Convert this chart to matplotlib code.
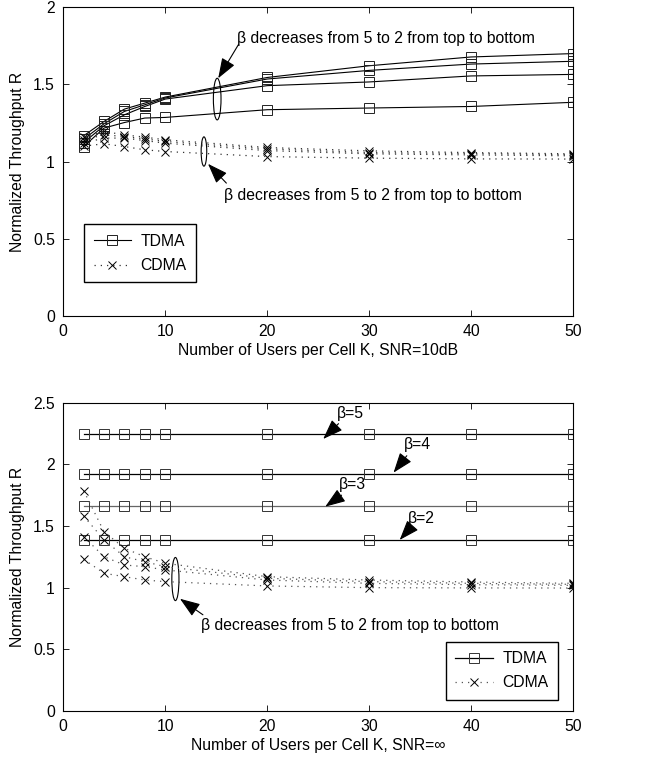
import matplotlib
matplotlib.use('Agg')
import matplotlib.pyplot as plt
from matplotlib.patches import Ellipse

plt.rcParams['font.family'] = ['Liberation Sans', 'DejaVu Sans']
plt.rcParams['font.size'] = 11.3

# Number of users per cell
users = [2, 4, 6, 8, 10, 20, 30, 40, 50]

# SNR=10dB, beta = 5, 4, 3, 2
tdma_10db = [
    [1.167, 1.26, 1.34, 1.379, 1.418, 1.545, 1.621, 1.678, 1.70],
    [1.145, 1.245, 1.325, 1.368, 1.412, 1.535, 1.591, 1.632, 1.65],
    [1.123, 1.232, 1.303, 1.357, 1.405, 1.492, 1.516, 1.555, 1.565],
    [1.097, 1.217, 1.253, 1.282, 1.286, 1.336, 1.347, 1.357, 1.384],
]
cdma_10db = [
    [1.16, 1.195, 1.173, 1.158, 1.141, 1.091, 1.069, 1.058, 1.05],
    [1.14, 1.173, 1.162, 1.147, 1.13, 1.082, 1.058, 1.052, 1.044],
    [1.12, 1.152, 1.152, 1.136, 1.119, 1.071, 1.05, 1.043, 1.037],
    [1.10, 1.115, 1.097, 1.076, 1.065, 1.032, 1.022, 1.017, 1.016],
]

# SNR=inf, beta = 5, 4, 3, 2
tdma_inf_level = [2.246, 1.919, 1.665, 1.384]
cdma_inf = [
    [1.787, 1.454, 1.319, 1.251, 1.198, 1.089, 1.062, 1.046, 1.035],
    [1.581, 1.387, 1.251, 1.211, 1.170, 1.076, 1.049, 1.035, 1.027],
    [1.414, 1.251, 1.184, 1.170, 1.144, 1.062, 1.035, 1.024, 1.019],
    [1.230, 1.117, 1.089, 1.062, 1.049, 1.014, 1.000, 0.998, 0.997],
]

note = '\u03b2 decreases from 5 to 2 from top to bottom'
tdma_colors = ['black', 'black', '#666666', 'black']
dots = (0, (1, 4))

fig = plt.figure(figsize=(6.57, 7.63), dpi=100)
ax1 = fig.add_axes([0.0963, 0.5862, 0.7758, 0.4042])
ax2 = fig.add_axes([0.0963, 0.0682, 0.7758, 0.4040])

arrow = dict(arrowstyle='-|>,head_length=1.1,head_width=0.4', color='black',
             lw=0.8, shrinkA=0, shrinkB=0)
leg_kw = dict(frameon=True, fancybox=False, edgecolor='black', handlelength=2.4,
              handletextpad=0.6, borderpad=0.6, labelspacing=0.6,
              framealpha=1, borderaxespad=0)

# ---- top: SNR = 10 dB
for i in range(4):
    ax1.plot(users, tdma_10db[i], '-', color='black', lw=0.8, marker='s',
             mfc='none', mec='#222222', ms=6.5, mew=0.7,
             label='TDMA' if i == 0 else None)
for i in range(4):
    ax1.plot(users, cdma_10db[i], linestyle=dots, color='#333333', lw=0.9,
             marker='x', mec='black', ms=6, mew=0.7,
             label='CDMA' if i == 0 else None)

ax1.add_patch(Ellipse((15.1, 1.405), 0.75, 0.27, fill=False, lw=0.8))
ax1.add_patch(Ellipse((13.8, 1.065), 0.55, 0.19, fill=False, lw=0.8))
ax1.annotate('', xy=(15.2, 1.54), xytext=(17.2, 1.76), arrowprops=arrow)
ax1.text(17.0, 1.80, note, va='center', ha='left')
ax1.annotate('', xy=(14.2, 0.985), xytext=(16.0, 0.86), arrowprops=arrow)
ax1.text(15.8, 0.777, note, va='center', ha='left')

ax1.set_xlim(0, 50)
ax1.set_ylim(0, 2)
ax1.set_xticks([0, 10, 20, 30, 40, 50])
ax1.set_yticks([0, 0.5, 1, 1.5, 2])
ax1.set_yticklabels(['0', '0.5', '1', '1.5', '2'])
ax1.set_xlabel('Number of Users per Cell K, SNR=10dB', labelpad=3)
ax1.set_ylabel('Normalized Throughput R', labelpad=6)
ax1.legend(loc='lower left', bbox_to_anchor=(0.041, 0.108), **leg_kw)

# ---- bottom: SNR = inf
for i in range(4):
    ax2.plot(users, [tdma_inf_level[i]] * len(users), '-', color=tdma_colors[i],
             lw=0.9, marker='s', mfc='none', mec='#333333', ms=6.5, mew=0.7,
             label='TDMA' if i == 0 else None)
for i in range(4):
    ax2.plot(users, cdma_inf[i], linestyle=dots, color='#555555', lw=0.9,
             marker='x', mec='black', ms=6, mew=0.7,
             label='CDMA' if i == 0 else None)

ax2.add_patch(Ellipse((11.0, 1.07), 0.7, 0.35, fill=False, lw=0.8))
ax2.annotate('', xy=(11.45, 0.91), xytext=(13.7, 0.78), arrowprops=arrow)
ax2.text(13.5, 0.69, note, va='center', ha='left')

beta_notes = [
    ('5', (25.5, 2.206), (27.0, 2.33), (26.8, 2.415)),
    ('4', (32.4, 1.933), (33.7, 2.07), (33.4, 2.165)),
    ('3', (25.7, 1.657), (27.3, 1.75), (27.0, 1.833)),
    ('2', (33.0, 1.387), (34.1, 1.49), (33.8, 1.563)),
]
for b, tip, tail, pos in beta_notes:
    ax2.annotate('', xy=tip, xytext=tail, arrowprops=arrow)
    ax2.text(pos[0], pos[1], '\u03b2=' + b, va='center', ha='left')

ax2.set_xlim(0, 50)
ax2.set_ylim(0, 2.5)
ax2.set_xticks([0, 10, 20, 30, 40, 50])
ax2.set_yticks([0, 0.5, 1, 1.5, 2, 2.5])
ax2.set_yticklabels(['0', '0.5', '1', '1.5', '2', '2.5'])
ax2.set_xlabel('Number of Users per Cell K, SNR=\u221e', labelpad=3)
ax2.set_ylabel('Normalized Throughput R', labelpad=6)
ax2.legend(loc='lower right', bbox_to_anchor=(0.970, 0.036), **leg_kw)

for ax in (ax1, ax2):
    ax.tick_params(direction='in', top=True, right=True, length=4, width=0.6,
                   pad=6, labelsize=11.3)
    for s in ax.spines.values():
        s.set_linewidth(0.8)

fig.savefig('out.png', dpi=100)
